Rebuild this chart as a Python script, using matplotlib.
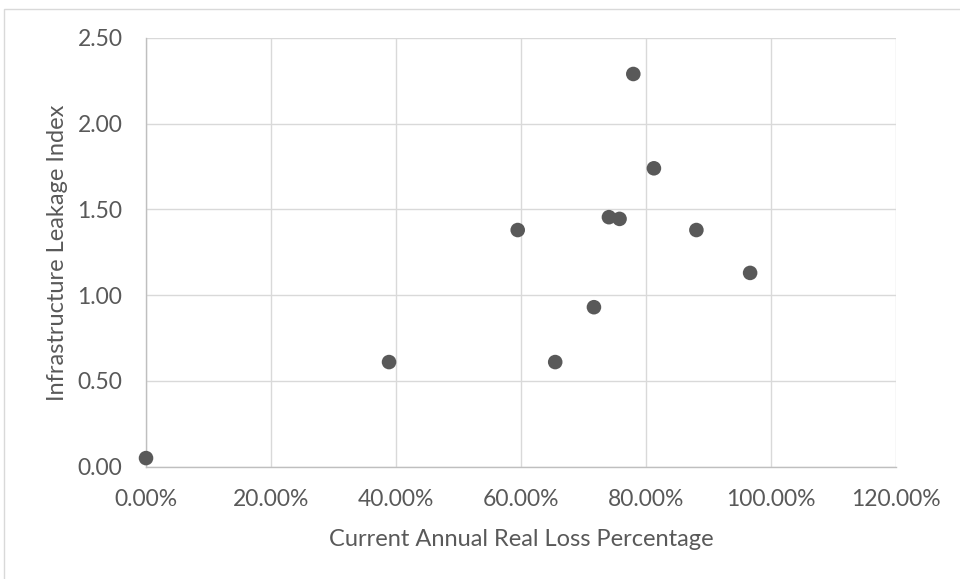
import matplotlib

matplotlib.use("Agg")
import matplotlib.pyplot as plt
from matplotlib.patches import Rectangle
from matplotlib.ticker import FuncFormatter, MultipleLocator

# Current annual real loss (fraction) vs infrastructure leakage index
loss_pct = [0.000, 0.389, 0.595, 0.655, 0.717, 0.741, 0.758, 0.780, 0.813, 0.881, 0.967]
ili = [0.05, 0.61, 1.38, 0.61, 0.93, 1.455, 1.445, 2.29, 1.74, 1.38, 1.13]

x_label = "Current Annual Real Loss Percentage"
y_label = "Infrastructure Leakage Index"

plt.rcParams["font.family"] = ["Lato", "DejaVu Sans"]

fig = plt.figure(figsize=(9.6, 5.79), dpi=100)
ax = fig.add_axes([0.1521, 0.194, 0.9330 - 0.1521, 0.9344 - 0.194])

# chart border like the spreadsheet export
fig.patches.append(Rectangle((4 / 960, -0.05), 1.2, 1 - 9 / 579 + 0.05, transform=fig.transFigure,
                             fill=False, edgecolor="#d9d9d9", linewidth=1.0))

ax.scatter(loss_pct, ili, s=110, color="#595959", edgecolors="none", zorder=4, clip_on=False)

ax.set_xlim(0, 1.2)
ax.set_ylim(0, 2.5)
ax.xaxis.set_major_locator(MultipleLocator(0.2))
ax.yaxis.set_major_locator(MultipleLocator(0.5))
ax.xaxis.set_major_formatter(FuncFormatter(lambda v, _: f"{v * 100:.2f}%"))
ax.yaxis.set_major_formatter(FuncFormatter(lambda v, _: f"{v:.2f}"))

ax.grid(True, color="#d9d9d9", linewidth=1.0, zorder=0)
ax.set_axisbelow(True)
for side in ["top", "right"]:
    ax.spines[side].set_visible(False)
for side in ["left", "bottom"]:
    ax.spines[side].set_color("#bfbfbf")
    ax.spines[side].set_linewidth(1.0)
ax.tick_params(length=0, labelsize=16.5, colors="#595959")
ax.tick_params(axis="x", pad=16)
ax.tick_params(axis="y", pad=17)

ax.set_xlabel(x_label, fontsize=17, color="#595959", labelpad=14)
ax.set_ylabel(y_label, fontsize=17, color="#595959", labelpad=7)

fig.savefig("out.png", dpi=100)
